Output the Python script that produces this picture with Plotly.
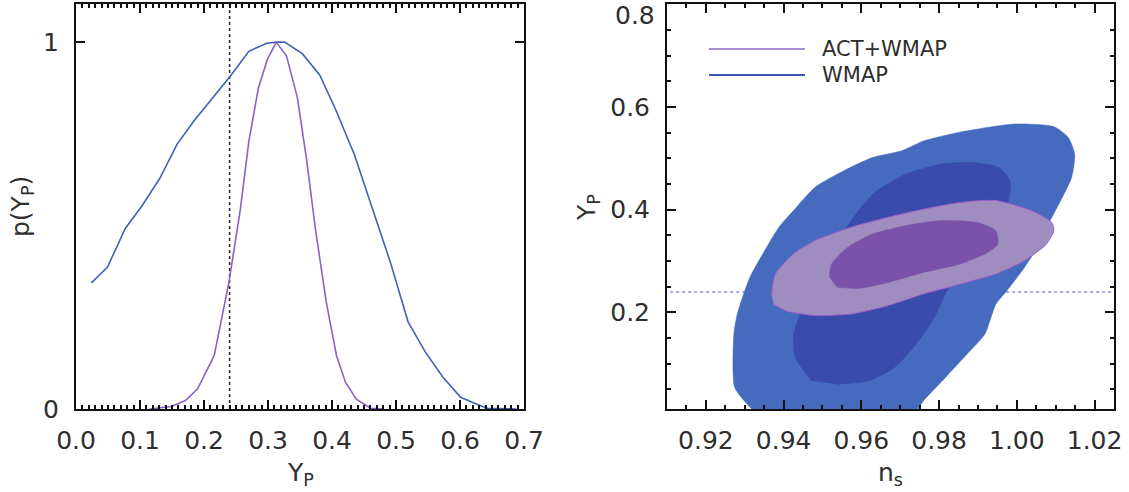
import plotly.graph_objects as go

# ---------------- data ----------------
# Left panel: marginalised likelihood p(Y_P)
wmap_yp = [0.024, 0.049, 0.077, 0.104, 0.131, 0.158, 0.186, 0.214, 0.241, 0.270, 0.298, 0.313,
           0.326, 0.354, 0.381, 0.407, 0.435, 0.463, 0.491, 0.519, 0.546, 0.573, 0.601, 0.629,
           0.643, 0.688]
wmap_p = [0.344, 0.386, 0.492, 0.556, 0.629, 0.722, 0.789, 0.848, 0.907, 0.975, 0.997, 1.0,
          1.0, 0.968, 0.910, 0.811, 0.693, 0.547, 0.401, 0.237, 0.155, 0.087, 0.032, 0.011,
          0.002, 0.0]
act_yp = [0.115, 0.149, 0.171, 0.190, 0.216, 0.239, 0.257, 0.270, 0.285, 0.299, 0.313, 0.329,
          0.346, 0.360, 0.374, 0.391, 0.407, 0.421, 0.438, 0.460, 0.480]
act_p = [0.0, 0.007, 0.023, 0.055, 0.146, 0.346, 0.547, 0.729, 0.875, 0.953, 1.0, 0.962,
         0.848, 0.684, 0.492, 0.292, 0.146, 0.073, 0.027, 0.002, 0.0]
bbn_yp = 0.24

# Right panel: 2D contours (n_s, Y_P)
wmap95_ns = [0.9318, 0.9274, 0.9272, 0.9281, 0.9313, 0.9351, 0.9388, 0.9425, 0.9481, 0.9555,
             0.9630, 0.9704, 0.9760, 0.9853, 0.9993, 1.0095, 1.0132, 1.0149, 1.0141, 1.0113,
             1.0086, 1.0058, 1.0020, 0.9974, 0.9946, 0.9918, 0.9872, 0.9816, 0.9760, 0.9746,
             0.9740, 0.9330]
wmap95_yp = [0.012, 0.054, 0.158, 0.197, 0.268, 0.320, 0.366, 0.398, 0.444, 0.476,
             0.502, 0.515, 0.534, 0.551, 0.567, 0.562, 0.541, 0.508, 0.463, 0.418,
             0.379, 0.333, 0.288, 0.242, 0.216, 0.158, 0.119, 0.073, 0.028, 0.012,
             0.0, 0.0]
wmap68_ns = [0.9472, 0.9430, 0.9426, 0.9439, 0.9462, 0.9509, 0.9574, 0.9630, 0.9713, 0.9807,
             0.9890, 0.9955, 0.9983, 0.9979, 0.9946, 0.9909, 0.9853, 0.9816, 0.9788, 0.9741,
             0.9686, 0.9620, 0.9537]
wmap68_yp = [0.067, 0.112, 0.158, 0.190, 0.236, 0.307, 0.379, 0.431, 0.469, 0.489,
             0.492, 0.482, 0.456, 0.418, 0.366, 0.327, 0.281, 0.236, 0.190, 0.138,
             0.093, 0.067, 0.060]
act95_ns = [0.9369, 0.9379, 0.9425, 0.9481, 0.9574, 0.9667, 0.9760, 0.9853, 0.9946, 1.0039,
            1.0090, 1.0095, 1.0076, 1.0020, 0.9946, 0.9853, 0.9760, 0.9667, 0.9574, 0.9481,
            0.9407, 0.9374]
act95_yp = [0.236, 0.275, 0.314, 0.340, 0.366, 0.385, 0.401, 0.414, 0.418, 0.398,
            0.375, 0.359, 0.333, 0.301, 0.275, 0.255, 0.236, 0.213, 0.197, 0.194,
            0.203, 0.216]
act68_ns = [0.9518, 0.9523, 0.9565, 0.9630, 0.9714, 0.9807, 0.9900, 0.9946, 0.9951, 0.9918,
            0.9853, 0.9760, 0.9667, 0.9593, 0.9537]
act68_yp = [0.268, 0.294, 0.327, 0.353, 0.369, 0.379, 0.375, 0.359, 0.333, 0.314,
            0.294, 0.278, 0.258, 0.247, 0.249]

yp_ticks = [0.2, 0.4, 0.6, 0.8]
legend_names = ["ACT+WMAP", "WMAP"]

# ---------------- styles ----------------
W, H = 1129, 492
FONT = "DejaVu Sans"
TXT = "#2e2e2e"
BLUE_LINE = "#4160B9"
PURPLE_LINE = "#8A62C4"


def fx(px):
    return px / W


def fy(py):
    return 1 - py / H


fig = go.Figure()

# Left panel
fig.add_trace(go.Scatter(x=[bbn_yp, bbn_yp], y=[0, 1.2], mode="lines",
                         line=dict(color="#222222", width=1.5, dash="dot"),
                         xaxis="x", yaxis="y", showlegend=False, hoverinfo="skip"))
fig.add_trace(go.Scatter(x=wmap_yp, y=wmap_p, mode="lines",
                         line=dict(color=BLUE_LINE, width=1.6),
                         xaxis="x", yaxis="y", name="WMAP", showlegend=False))
fig.add_trace(go.Scatter(x=act_yp, y=act_p, mode="lines",
                         line=dict(color=PURPLE_LINE, width=1.6),
                         xaxis="x", yaxis="y", name="ACT+WMAP", showlegend=False))

# Right panel
fig.add_trace(go.Scatter(x=[0.9, 1.03], y=[bbn_yp, bbn_yp], mode="lines",
                         line=dict(color="#8E8EDC", width=1.5, dash="dot"),
                         xaxis="x2", yaxis="y2", showlegend=False, hoverinfo="skip"))
sm = dict(shape="spline", smoothing=0.6)
fig.add_trace(go.Scatter(x=wmap95_ns, y=wmap95_yp, mode="lines", fill="toself",
                         fillcolor="#466BBE", line=dict(color="#466BBE", width=0.5, **sm),
                         xaxis="x2", yaxis="y2", showlegend=False))
fig.add_trace(go.Scatter(x=wmap68_ns, y=wmap68_yp, mode="lines", fill="toself",
                         fillcolor="#394CAB", line=dict(color="#394CAB", width=0.5, **sm),
                         xaxis="x2", yaxis="y2", showlegend=False))
fig.add_trace(go.Scatter(x=act95_ns, y=act95_yp, mode="lines", fill="toself",
                         fillcolor="#9E8DBE", line=dict(color="#A35CCB", width=1, **sm),
                         xaxis="x2", yaxis="y2", showlegend=False))
fig.add_trace(go.Scatter(x=act68_ns, y=act68_yp, mode="lines", fill="toself",
                         fillcolor="#7A52AA", line=dict(color="#7A52AA", width=0.5, **sm),
                         xaxis="x2", yaxis="y2", showlegend=False))

axis_common = dict(showline=True, linecolor="#111111", linewidth=2, mirror="ticks",
                   ticks="inside", tickcolor="#111111", tickwidth=1.5, ticklen=9,
                   showgrid=False, zeroline=False, automargin=False,
                   tickfont=dict(family=FONT, size=25, color=TXT))

fig.update_layout(
    template="none",
    width=W, height=H, margin=dict(l=0, r=0, t=0, b=0, pad=0, autoexpand=False),
    paper_bgcolor="white", plot_bgcolor="white",
    showlegend=False,
    xaxis=dict(domain=[fx(76), fx(524)], range=[0, 0.7], dtick=0.1, tickformat=".1f",
               minor=dict(dtick=0.01, ticks="inside", ticklen=4, tickcolor="#111111"),
               anchor="y", ticklabelstandoff=8, **axis_common),
    yaxis=dict(domain=[fy(409), fy(4)], range=[0, 1.104], tickvals=[0, 1],
               anchor="x", ticklabelstandoff=10, **axis_common),
    xaxis2=dict(domain=[fx(667), fx(1114)], range=[0.91, 1.025], dtick=0.02,
                tickformat=".2f",
                minor=dict(dtick=0.005, ticks="inside", ticklen=4, tickcolor="#111111"),
                anchor="y2", ticklabelstandoff=8, **axis_common),
    yaxis2=dict(domain=[fy(409), fy(4)], range=[0.012, 0.8006], tickvals=yp_ticks,
                ticktext=[f"{v:.1f}" if v < 0.75 else "" for v in yp_ticks],
                minor=dict(dtick=0.05, ticks="inside", ticklen=4, tickcolor="#111111"),
                anchor="x2", ticklabelstandoff=10, **axis_common),
)

# top tick label of right panel (drawn lowered, as in the original)
fig.add_annotation(text=f"{yp_ticks[-1]:.1f}", xref="paper", yref="paper",
                   x=fx(657), y=fy(16), showarrow=False, xanchor="right", yanchor="middle",
                   font=dict(family=FONT, size=25, color=TXT))

# Axis titles
title_font = dict(family=FONT, size=25, color=TXT)
fig.add_annotation(text="Y<sub>P</sub>", xref="paper", yref="paper", x=fx(300), y=fy(474),
                   showarrow=False, font=title_font, xanchor="center", yanchor="middle")
fig.add_annotation(text="p(Y<sub>P</sub>)", xref="paper", yref="paper", x=fx(22), y=fy(207),
                   showarrow=False, font=title_font, textangle=-90,
                   xanchor="center", yanchor="middle")
fig.add_annotation(text="n<sub>s</sub>", xref="paper", yref="paper", x=fx(890), y=fy(474),
                   showarrow=False, font=title_font, xanchor="center", yanchor="middle")
fig.add_annotation(text="Y<sub>P</sub>", xref="paper", yref="paper", x=fx(588), y=fy(208),
                   showarrow=False, font=title_font, textangle=-90,
                   xanchor="center", yanchor="middle")

# Legend (manual, inside right panel)
legend_colors = ["#A88CD0", "#3D55B0"]
legend_y = [49, 75]
for name, col, ly in zip(legend_names, legend_colors, legend_y):
    fig.add_shape(type="line", xref="paper", yref="paper",
                  x0=fx(709), x1=fx(805), y0=fy(ly), y1=fy(ly),
                  line=dict(color=col, width=2))
    fig.add_annotation(text=name, xref="paper", yref="paper", x=fx(820), y=fy(ly),
                       showarrow=False, xanchor="left", yanchor="middle",
                       font=dict(family=FONT, size=21, color=TXT))

fig.write_html("out.html",
               post_script="document.body.style.margin='0';"
                           "document.body.style.padding='0';")
